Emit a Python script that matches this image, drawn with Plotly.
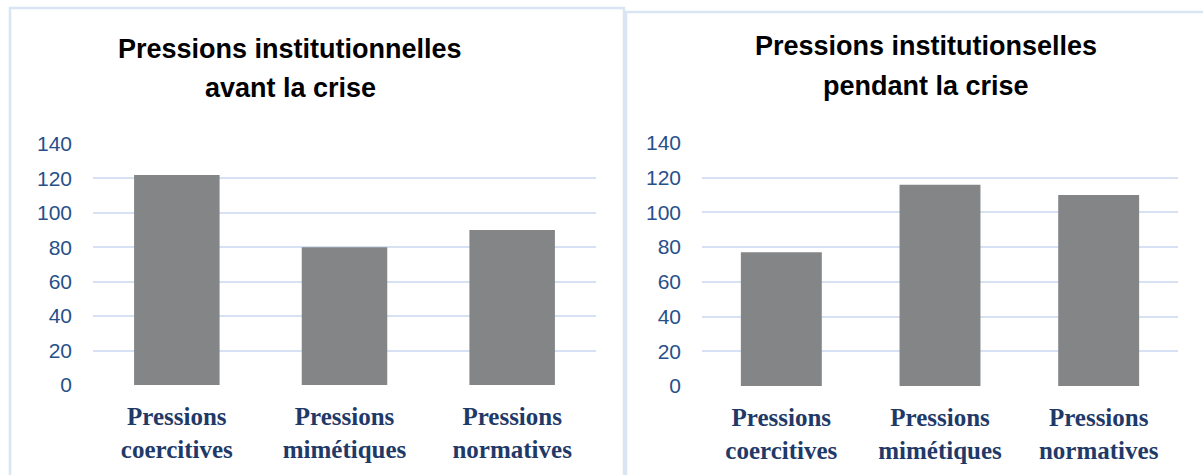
import plotly.graph_objects as go

categories = ["Pressions<br>coercitives", "Pressions<br>mimétiques", "Pressions<br>normatives"]
avant_values = [122, 80, 90]
pendant_values = [77, 116, 110]
tick_vals = [0, 20, 40, 60, 80, 100, 120, 140]
title_left = ["Pressions institutionnelles", "avant la crise"]
title_right = ["Pressions institutionselles", "pendant la crise"]

W, H = 1203, 475
BAR = "#848587"
GRID = "#d6e2f3"
BORDER = "#dae5f4"
TICK = "#27508a"
XLAB = "#1f3a68"

def px(x):
    return x / W

def py(y):
    return 1 - y / H

fig = go.Figure()
fig.add_trace(go.Bar(x=categories, y=avant_values, marker=dict(color=BAR, line=dict(width=0)),
                     xaxis="x", yaxis="y", showlegend=False))
fig.add_trace(go.Bar(x=categories, y=pendant_values, marker=dict(color=BAR, line=dict(width=0)),
                     xaxis="x2", yaxis="y2", showlegend=False))

xcommon = dict(showgrid=False, zeroline=False, showline=False, ticks="", automargin=False,
               tickfont=dict(family="Liberation Serif, Times New Roman, serif", size=25, color=XLAB,
                             weight="bold"),
               ticklabelstandoff=14, fixedrange=True)
ycommon = dict(range=[0, 140], tickvals=tick_vals, showgrid=True, gridcolor=GRID, gridwidth=2,
               zeroline=False, showline=False, ticks="", automargin=False,
               tickfont=dict(family="Liberation Sans, Arial, sans-serif", size=21, color=TICK),
               ticklabelstandoff=20, fixedrange=True)

fig.update_layout(
    template="none",
    width=W, height=H, autosize=False,
    margin=dict(l=0, r=0, t=0, b=0, pad=0),
    paper_bgcolor="white", plot_bgcolor="white",
    bargap=0.49,
    xaxis=dict(domain=[px(93), px(596)], anchor="y", **xcommon),
    yaxis=dict(domain=[py(385), py(144)], anchor="x", **ycommon),
    xaxis2=dict(domain=[px(702), px(1178)], anchor="y2", **xcommon),
    yaxis2=dict(domain=[py(386), py(143)], anchor="x2", **ycommon),
)

# panel borders
fig.add_shape(type="rect", xref="paper", yref="paper", x0=px(10), x1=px(624), y0=py(490), y1=py(8),
              line=dict(color=BORDER, width=2.5), fillcolor="rgba(0,0,0,0)", layer="below")
fig.add_shape(type="rect", xref="paper", yref="paper", x0=px(626), x1=px(1220), y0=py(490), y1=py(12),
              line=dict(color=BORDER, width=2.5), fillcolor="rgba(0,0,0,0)", layer="below")

tfont = dict(family="Liberation Sans, Arial, sans-serif", size=27, color="black", weight="bold")
for (cx, ys, lines) in [(290, (49, 88), title_left), (926, (46, 86), title_right)]:
    for yy, txt in zip(ys, lines):
        fig.add_annotation(x=px(cx), y=py(yy), xref="paper", yref="paper", text=txt,
                           showarrow=False, xanchor="center", yanchor="middle", font=tfont)

fig.write_html("out.html", config={"displayModeBar": False},
               post_script="document.body.style.margin='0';document.body.style.overflow='hidden';")
